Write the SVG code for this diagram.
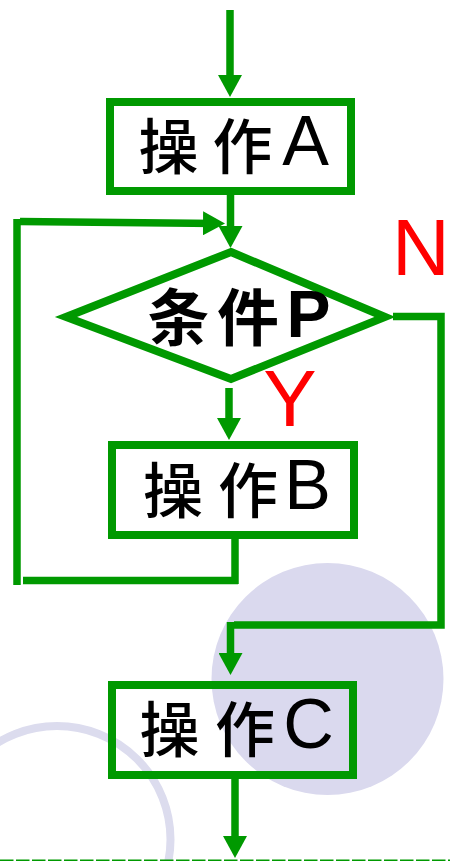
<svg xmlns="http://www.w3.org/2000/svg" width="450" height="861" viewBox="0 0 450 861">
  <style>
    .box { fill: none; stroke: #009900; stroke-width: 8; }
    .flow { fill: none; stroke: #009900; stroke-width: 7.5; stroke-linejoin: miter; }
    .arrow { marker-end: url(#head); }
    .cjk { font-family: "Noto Sans CJK SC", "Noto Sans", sans-serif; font-size: 60px; font-weight: 500; fill: #000; text-anchor: middle; }
    .lat { font-family: "Liberation Sans", Arial, sans-serif; font-size: 70px; font-weight: 400; }
    .cond { font-size: 62px; font-weight: 700; }
    .condlat { font-family: "Liberation Sans", Arial, sans-serif; font-size: 66px; font-weight: 700; }
    .branch { font-family: "Liberation Sans", Arial, sans-serif; font-size: 80px; fill: #ff0000; text-anchor: middle; }
  </style>
  <defs>
    <marker id="head" viewBox="0 0 22 24" refX="14" refY="12" markerWidth="22" markerHeight="24" markerUnits="userSpaceOnUse" orient="auto">
      <path d="M0,0 L22,12 L0,24 Z" fill="#009900"/>
    </marker>
  </defs>

  <!-- background decoration -->
  <g id="decor">
    <circle cx="327.5" cy="679" r="116" fill="#dad9ee"/>
    <circle cx="57" cy="839.5" r="113.5" fill="none" stroke="#dcdcee" stroke-width="8"/>
    <line x1="0" y1="860.2" x2="450" y2="860.2" stroke="#009900" stroke-width="1.6" stroke-dasharray="13.5 2.5"/>
  </g>

  <!-- connectors -->
  <g id="connectors">
    <path class="flow arrow" d="M230,10 V89"/>
    <path class="flow arrow" d="M230.5,195 V240"/>
    <path class="flow arrow" d="M229,388 V432"/>
    <!-- loop back from B to the condition -->
    <path class="flow" d="M235,539 V584"/>
    <path class="flow" d="M238,580.5 H23"/>
    <path class="flow" d="M17,585 V219"/>
    <path class="flow arrow" d="M20,221.5 L217,223.5"/>
    <!-- N branch -->
    <path class="flow" d="M393,316.5 H441 V625 H234"/>
    <path class="flow arrow" d="M230.5,622 V667"/>
    <path class="flow arrow" d="M235,779 V850"/>
  </g>

  <g id="opA">
    <rect class="box" x="110" y="102" width="241" height="89"/>
    <text class="cjk"><tspan x="168.5" y="169">操</tspan><tspan x="242.5" y="169">作</tspan><tspan class="lat" x="305.5" y="165">A</tspan></text>
  </g>

  <g id="condP">
    <polygon class="box" points="231,252 385,317 231,379 66,317" stroke-width="7.5"/>
    <text class="cjk cond"><tspan x="178.5" y="341">条</tspan><tspan x="248" y="341">件</tspan><tspan class="condlat" x="308.5" y="337">P</tspan></text>
  </g>

  <g id="opB">
    <rect class="box" x="112" y="445" width="242" height="90"/>
    <text class="cjk"><tspan x="173" y="513">操</tspan><tspan x="248" y="513">作</tspan><tspan class="lat" x="307.5" y="509">B</tspan></text>
  </g>

  <g id="opC">
    <rect class="box" x="112" y="685" width="241" height="90"/>
    <text class="cjk"><tspan x="169.5" y="752">操</tspan><tspan x="245" y="752">作</tspan><tspan class="lat" x="308.5" y="748">C</tspan></text>
  </g>

  <g id="labels">
    <text class="branch" x="290" y="426">Y</text>
    <text class="branch" x="421" y="275" font-size="76">N</text>
  </g>
</svg>
